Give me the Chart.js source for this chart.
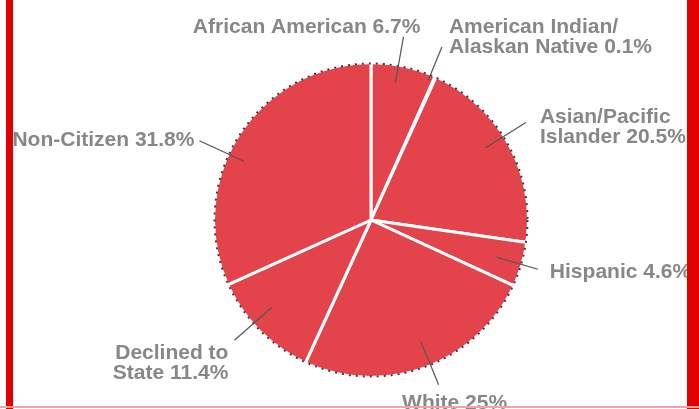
<!DOCTYPE html>
<html>
<head>
<meta charset="utf-8">
<script src="https://cdn.jsdelivr.net/npm/chart.js@4.4.0/dist/chart.umd.min.js"></script>
<style>
    html, body { margin: 0; padding: 0; background: #fff; }
    #wrap { position: relative; width: 699px; height: 409px; overflow: hidden; background: #fff; }
    #PieChart { position: absolute; left: 0; top: 0; }
    .bar { position: absolute; background: #e00000; }
</style>
</head>
<body>
<div id="wrap">
    <canvas id="PieChart" width="699" height="409"></canvas>
    <div class="bar" style="left:6px;top:0;width:7px;height:409px"></div>
    <div class="bar" style="left:687px;top:0;width:12px;height:409px"></div>
    <div style="position:absolute;left:0;top:406px;width:699px;height:2px;background:#f2a3a3"></div>
</div>
<script>
const categories = [
    ['African American'],
    ['American Indian/', 'Alaskan Native'],
    ['Asian/Pacific', 'Islander'],
    ['Hispanic'],
    ['White'],
    ['Declined to', 'State'],
    ['Non-Citizen']
];
const values = [6.7, 0.1, 20.5, 4.6, 25, 11.4, 31.8];

// where each label sits relative to its leader line (angle tweak in degrees, radii in px)
const labelPlacement = [
    { da: -2,   r0: 139, r1: 186, align: 'right',  dx: 17,  dy: -4 },
    { da: -2,   r0: 151, r1: 187, align: 'left',   dx: 7,   dy: -14 },
    { da: -3.5, r0: 135, r1: 183, align: 'left',   dx: 14,  dy: 0 },
    { da: 0,    r0: 131, r1: 174, align: 'left',   dx: 12,  dy: 9 },
    { da: -2,   r0: 132, r1: 178, align: 'center', dx: 16,  dy: 24 },
    { da: 3.5,  r0: 132, r1: 182, align: 'right',  dx: -6,  dy: 19 },
    { da: -8,   r0: 140, r1: 189, align: 'right',  dx: -5,  dy: 5 }
];

const pieDecor = {
    id: 'pieDecor',
    beforeDatasetsDraw(chart) {
        const arc = chart.getDatasetMeta(0).data[0];
        const ctx = chart.ctx;
        ctx.save();
        ctx.beginPath();
        ctx.arc(arc.x, arc.y, arc.outerRadius - 1.5, 0, Math.PI * 2);
        ctx.clip();
    },
    afterDatasetsDraw(chart) {
        const ctx = chart.ctx;
        ctx.restore();
        const meta = chart.getDatasetMeta(0);
        const {x, y, outerRadius} = meta.data[0];

        ctx.save();
        ctx.strokeStyle = '#3c3c3c';
        ctx.lineWidth = 2;
        ctx.setLineDash([2, 5]);
        ctx.beginPath();
        ctx.arc(x, y, outerRadius - 1, 0, Math.PI * 2);
        ctx.stroke();
        ctx.restore();

        ctx.save();
        ctx.font = 'bold 21px "Liberation Sans"';
        ctx.textBaseline = 'alphabetic';
        meta.data.forEach((el, i) => {
            const p = labelPlacement[i];
            const a = (el.startAngle + el.endAngle) / 2 + p.da * Math.PI / 180;
            const x0 = x + p.r0 * Math.cos(a), y0 = y + p.r0 * Math.sin(a);
            const x1 = x + p.r1 * Math.cos(a), y1 = y + p.r1 * Math.sin(a);
            ctx.strokeStyle = '#555';
            ctx.lineWidth = 1.2;
            ctx.beginPath();
            ctx.moveTo(x0, y0);
            ctx.lineTo(x1, y1);
            ctx.stroke();

            const lines = categories[i].slice();
            lines[lines.length - 1] += ' ' + values[i] + '%';
            ctx.fillStyle = '#878787';
            ctx.textAlign = p.align;
            lines.forEach((t, k) => {
                ctx.fillText(t, x1 + p.dx, y1 + p.dy + k * 20);
            });
        });
        ctx.restore();
    }
};

const ctx = document.getElementById('PieChart');
new Chart(ctx, {
    type: 'pie',
    data: {
        labels: categories,
        datasets: [{
            data: values,
            backgroundColor: '#e3444b',
            borderColor: '#ffffff',
            borderWidth: 3
        }]
    },
    options: {
        responsive: false,
        animation: false,
        radius: 157.5,
        layout: { padding: { left: 43, top: 31, right: 0, bottom: 0 } },
        plugins: {
            legend: { display: false },
            tooltip: { enabled: false }
        }
    },
    plugins: [pieDecor]
});
</script>
</body>
</html>
